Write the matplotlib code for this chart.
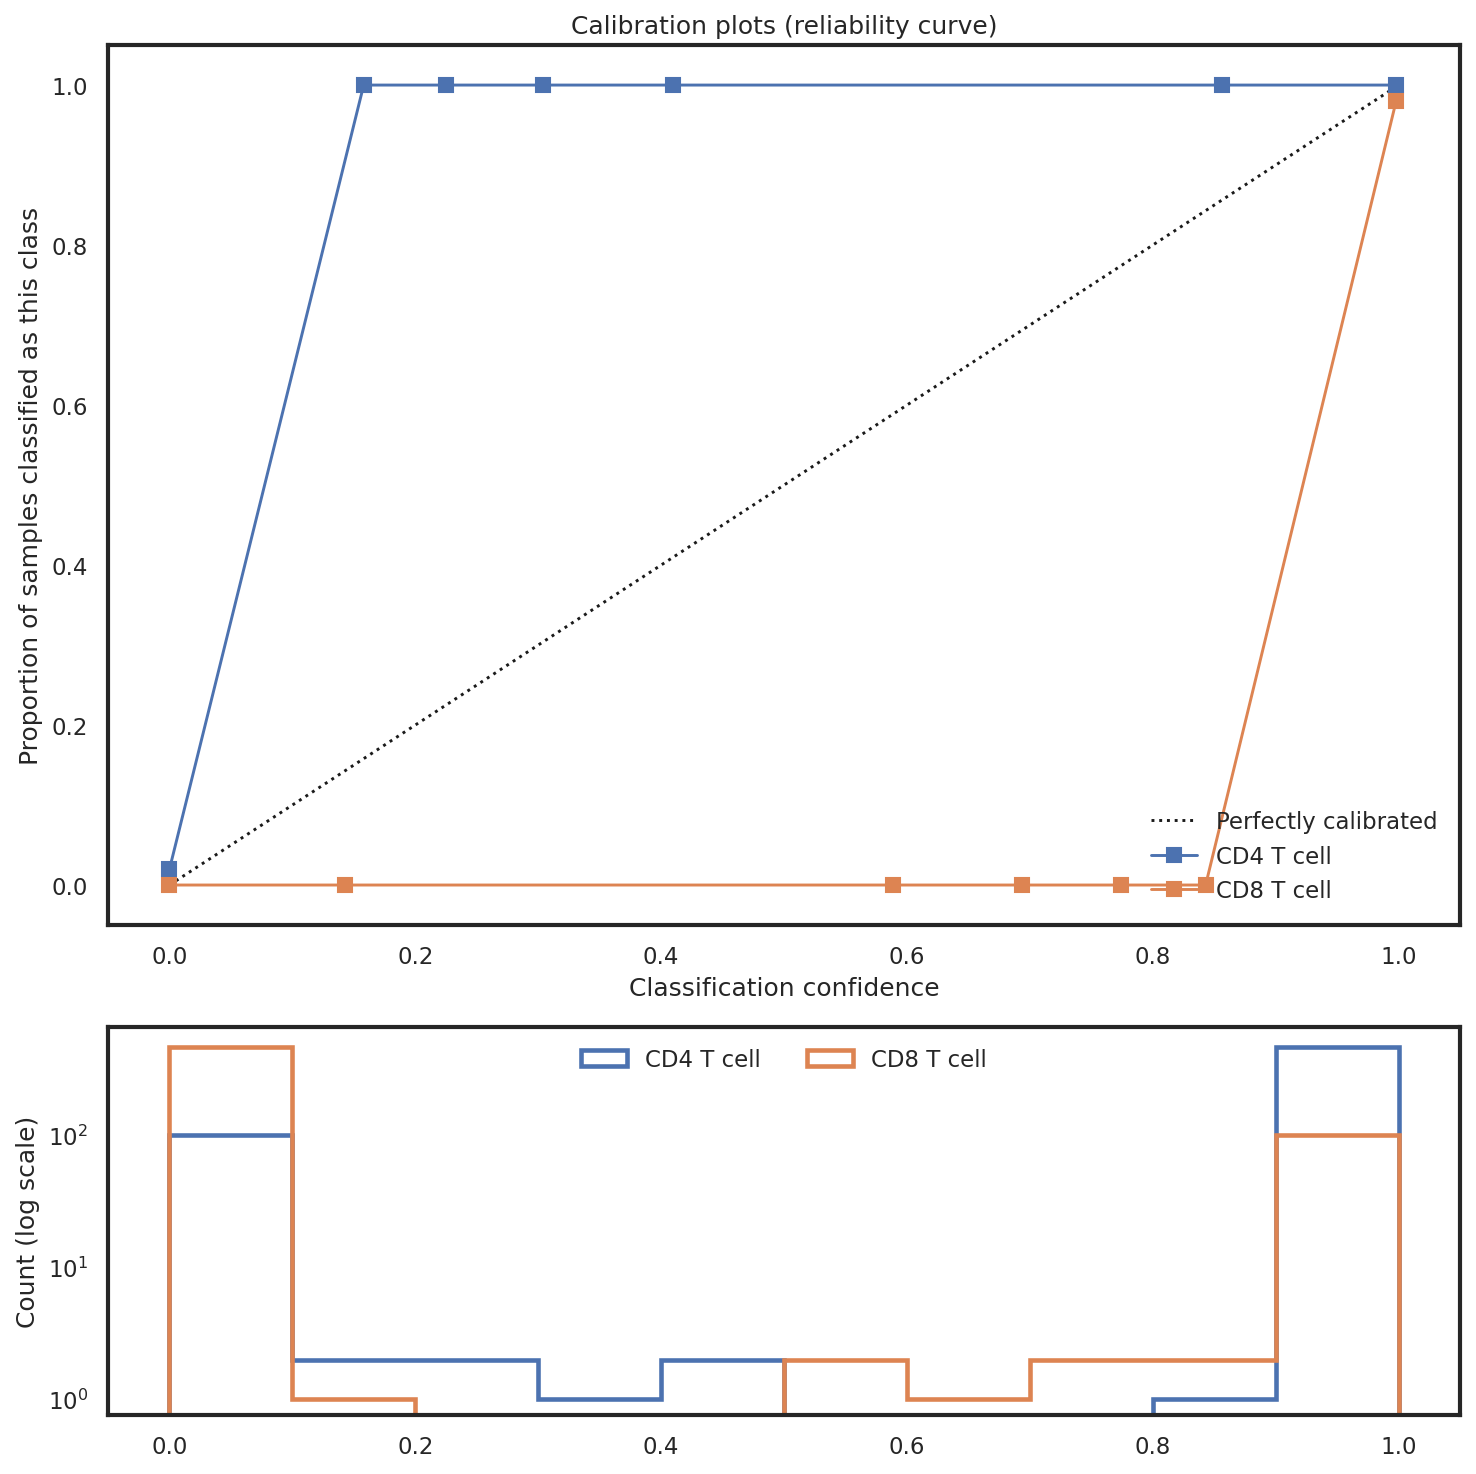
import matplotlib
matplotlib.use("Agg")
import matplotlib.pyplot as plt
import numpy as np
import seaborn as sns

# ------------------------------------------------------------------ data

classes = ["CD4 T cell", "CD8 T cell"]

# courbes de fiabilité (confiance moyenne, fraction de positifs)
cd4_conf = [0.0, 0.158, 0.225, 0.304, 0.41, 0.856, 0.998]
cd4_frac = [0.02, 1.0, 1.0, 1.0, 1.0, 1.0, 1.0]
cd8_conf = [0.0, 0.143, 0.589, 0.694, 0.774, 0.843, 0.998]
cd8_frac = [0.0, 0.0, 0.0, 0.0, 0.0, 0.0, 0.98]

# histogramme des confiances (10 bins de 0.1)
bin_edges = [0.0, 0.1, 0.2, 0.3, 0.4, 0.5, 0.6, 0.7, 0.8, 0.9, 1.0]
cd4_counts = [100, 2, 2, 1, 2, 0, 0, 0, 1, 470]
cd8_counts = [470, 1, 0, 0, 0, 2, 1, 2, 2, 100]

# ------------------------------------------------------------------ style

sns.set_theme(style="white")
plt.rcParams["font.family"] = ["DejaVu Sans"]
plt.rcParams["axes.edgecolor"] = "#262626"
plt.rcParams["axes.linewidth"] = 2.0
blue, orange = sns.color_palette("deep")[:2]

fig = plt.figure(figsize=(9.84, 9.833), dpi=150)
ax1 = fig.add_axes([0.0732, 0.3722, 0.916, 0.5966])
ax2 = fig.add_axes([0.0732, 0.040, 0.916, 0.263])

fs_lab = 12
fs_tick = 11
fs_leg = 11

# ------------------------------------------------------------------ calibration

ax1.plot([0, 1], [0, 1], "k:", lw=1.4, label="Perfectly calibrated")
ax1.plot(cd4_conf, cd4_frac, "s-", color=blue, lw=1.4, ms=6.5, label=classes[0])
ax1.plot(cd8_conf, cd8_frac, "s-", color=orange, lw=1.4, ms=6.5, label=classes[1])
ax1.set_title("Calibration plots (reliability curve)", fontsize=fs_lab)
ax1.set_xlabel("Classification confidence", fontsize=fs_lab)
ax1.set_ylabel("Proportion of samples classified as this class", fontsize=fs_lab)
ax1.tick_params(labelsize=fs_tick)
ax1.legend(loc="lower right", frameon=False, fontsize=fs_leg,
           handlelength=2.0, borderaxespad=0.6)

# ------------------------------------------------------------------ histogram

centers = np.array(bin_edges[:-1]) + 0.05
ax2.set_yscale("log")
ax2.hist(centers, bins=bin_edges, weights=cd4_counts, histtype="step",
         color=blue, lw=2.2, label=classes[0])
ax2.hist(centers, bins=bin_edges, weights=cd8_counts, histtype="step",
         color=orange, lw=2.2, label=classes[1])
ax2.set_xlim(-0.05, 1.05)
ax2.set_ylim(0.76, 660)
ax2.set_xticks([0.0, 0.2, 0.4, 0.6, 0.8, 1.0])
ax2.set_ylabel("Count (log scale)", fontsize=fs_lab)
ax2.tick_params(labelsize=fs_tick)
ax2.legend(loc="upper center", ncol=2, frameon=False, fontsize=fs_leg,
           borderaxespad=0.5)

fig.savefig("out.png", dpi=150)
